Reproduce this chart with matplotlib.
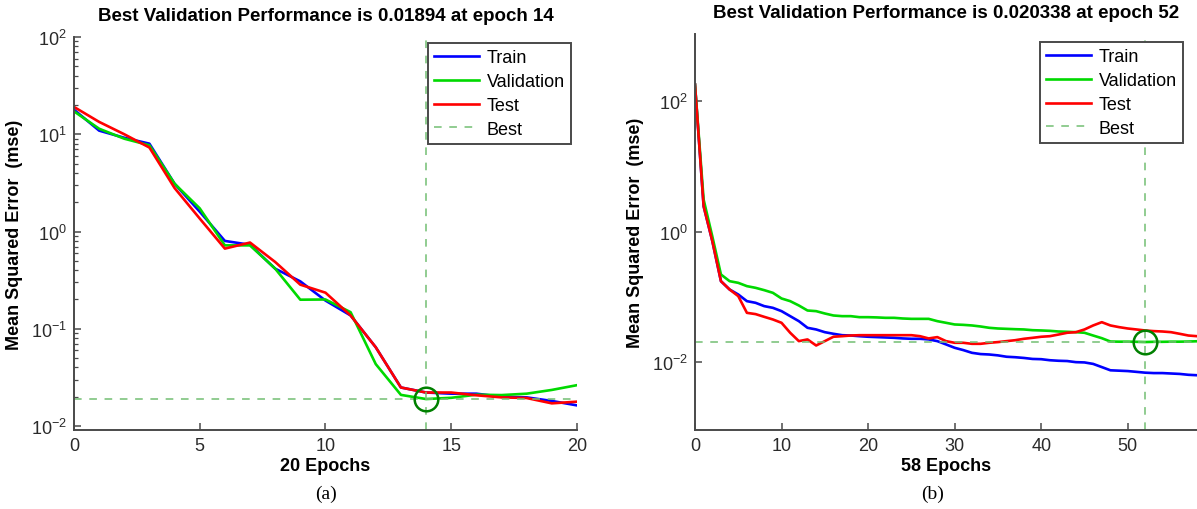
import numpy as np
import matplotlib
matplotlib.use("Agg")
import matplotlib.pyplot as plt
from matplotlib.ticker import LogLocator, NullLocator, FixedLocator

plt.rcParams["font.family"] = ["Liberation Sans", "DejaVu Sans"]
plt.rcParams["mathtext.fontset"] = "custom"
plt.rcParams["mathtext.rm"] = "Liberation Sans"
plt.rcParams["mathtext.it"] = "Liberation Sans:italic"
plt.rcParams["mathtext.bf"] = "Liberation Sans:bold"

# ---- Panel (a): 20 epochs ----
epochs_a = list(range(21))
train_a = [17.9, 10.9, 9.2, 8.0, 3.1, 1.6, 0.80, 0.73, 0.415, 0.307, 0.195,
           0.137, 0.0645, 0.0249, 0.0221, 0.0215, 0.0215, 0.0200, 0.0197, 0.0181, 0.0163]
val_a = [17.2, 11.4, 9.0, 7.7, 3.1, 1.73, 0.72, 0.72, 0.415, 0.199, 0.200,
         0.148, 0.0433, 0.0209, 0.01894, 0.0195, 0.0210, 0.0208, 0.0215, 0.0235, 0.0263]
test_a = [19.1, 13.4, 10.0, 7.3, 2.8, 1.36, 0.667, 0.77, 0.486, 0.284, 0.235,
          0.137, 0.0645, 0.0249, 0.0221, 0.0221, 0.0207, 0.0197, 0.0194, 0.0171, 0.0178]
best_epoch_a = 14
best_perf_a = 0.01894

# ---- Panel (b): 58 epochs ----
epochs_b = list(range(59))
train_b = [180, 2.45, 0.72, 0.1743, 0.1299, 0.1089, 0.0861, 0.0812, 0.0722, 0.0680,
           0.0605, 0.0507, 0.0425, 0.0336, 0.0317, 0.0288, 0.0272, 0.0259, 0.0256, 0.0250,
           0.0245, 0.0242, 0.0239, 0.0236, 0.0231, 0.0228, 0.0228, 0.0223, 0.0210, 0.0187,
           0.0166, 0.0153, 0.0139, 0.0133, 0.0131, 0.0127, 0.0121, 0.0119, 0.0116, 0.0112,
           0.0111, 0.0107, 0.0105, 0.0104, 0.0100, 0.0099, 0.0094, 0.0084, 0.0075, 0.0074,
           0.0073, 0.0071, 0.0069, 0.0068, 0.0068, 0.0067, 0.0066, 0.0064, 0.0063]
val_b = [180, 3.1, 0.85, 0.2207, 0.1743, 0.1643, 0.1462, 0.1378, 0.1269, 0.1155,
         0.0946, 0.0861, 0.0739, 0.0619, 0.0605, 0.0557, 0.0519, 0.0507, 0.0507, 0.0489,
         0.0489, 0.0485, 0.0478, 0.0478, 0.0467, 0.0461, 0.0461, 0.0461, 0.0425, 0.0401,
         0.0378, 0.0373, 0.0365, 0.0352, 0.0336, 0.0328, 0.0324, 0.0320, 0.0317, 0.0309,
         0.0306, 0.0302, 0.0295, 0.0292, 0.0288, 0.0282, 0.0256, 0.0233, 0.0207, 0.0206,
         0.0206, 0.0205, 0.020338, 0.0205, 0.0205, 0.0206, 0.0206, 0.0207, 0.0209]
test_b = [180, 2.45, 0.72, 0.1743, 0.1299, 0.1027, 0.0570, 0.0545, 0.0495, 0.0451,
          0.0401, 0.0282, 0.0210, 0.0223, 0.0180, 0.0210, 0.0245, 0.0250, 0.0256, 0.0259,
          0.0259, 0.0259, 0.0259, 0.0259, 0.0259, 0.0259, 0.0250, 0.0231, 0.0242, 0.0210,
          0.0198, 0.0198, 0.0191, 0.0191, 0.0198, 0.0203, 0.0210, 0.0217, 0.0228, 0.0236,
          0.0245, 0.0250, 0.0265, 0.0282, 0.0288, 0.0317, 0.0365, 0.0410, 0.0365, 0.0344,
          0.0328, 0.0317, 0.0306, 0.0299, 0.0295, 0.0288, 0.0272, 0.0256, 0.0250]
best_epoch_b = 52
best_perf_b = 0.020338

C_TRAIN = (0.0, 0.0, 1.0)
C_VAL = (0.0, 0.85, 0.0)
C_TEST = (1.0, 0.0, 0.0)
C_BEST = (0.45, 0.75, 0.45)
C_CIRCLE = (0.0, 0.5, 0.0)
C_AXIS = "#4a4a4a"
C_TICKTXT = "#2a2a2a"

fig = plt.figure(figsize=(11.97, 5.10), dpi=100)
ax_a = fig.add_axes([0.0618, 0.1549, 0.4202, 0.7706])
ax_b = fig.add_axes([0.5806, 0.1549, 0.4194, 0.7765])


def draw_panel(ax, ep, tr, va, te, best_ep, best_perf, xlim, ylim, xticks, yticks,
               minor, title, xlabel, legend_anchor):
    ax.plot(ep, tr, color=C_TRAIN, lw=1.9, label="Train")
    ax.plot(ep, va, color=C_VAL, lw=1.9, label="Validation")
    ax.plot(ep, te, color=C_TEST, lw=1.9, label="Test")
    ax.set_yscale("log")
    ax.set_xlim(*xlim)
    ax.set_ylim(*ylim)
    ax.axhline(best_perf, color=C_BEST, lw=1.1, ls=(0, (5, 5)), label="Best")
    ax.axvline(best_ep, color=C_BEST, lw=1.1, ls=(0, (5, 5)))
    ax.plot([best_ep], [best_perf], "o", ms=17, mfc="none", mec=C_CIRCLE, mew=1.8,
            clip_on=False)

    ax.xaxis.set_major_locator(FixedLocator(xticks))
    ax.yaxis.set_major_locator(FixedLocator(yticks))
    if minor:
        ax.yaxis.set_minor_locator(LogLocator(base=10, subs=np.arange(2, 10)))
    else:
        ax.yaxis.set_minor_locator(NullLocator())
    ax.xaxis.set_minor_locator(NullLocator())

    for s in ("top", "right"):
        ax.spines[s].set_visible(False)
    for s in ("left", "bottom"):
        ax.spines[s].set_color(C_AXIS)
        ax.spines[s].set_linewidth(1.4)
    ax.tick_params(which="major", direction="in", length=5, width=1.1, color=C_AXIS,
                   labelsize=13, labelcolor=C_TICKTXT, pad=5)
    ax.tick_params(which="minor", direction="in", length=3, width=0.9, color=C_AXIS)

    ax.set_title(title, fontsize=13.5, fontweight="bold", pad=12)
    ax.set_xlabel(xlabel, fontsize=13, fontweight="bold", labelpad=2)
    ax.set_ylabel("Mean Squared Error  (mse)", fontsize=13, fontweight="bold", labelpad=6)

    leg = ax.legend(loc="upper right", bbox_to_anchor=legend_anchor, fontsize=13,
                    frameon=True, fancybox=False, framealpha=1, edgecolor=C_AXIS,
                    handlelength=2.5, handletextpad=0.4, labelspacing=0.38,
                    borderpad=0.35, borderaxespad=0)
    leg.get_frame().set_linewidth(1.4)


draw_panel(ax_a, epochs_a, train_a, val_a, test_a, best_epoch_a, best_perf_a,
           xlim=(0, 20), ylim=(10 ** -2.041, 100), xticks=[0, 5, 10, 15, 20],
           yticks=[1e-2, 1e-1, 1e0, 1e1, 1e2], minor=True,
           title="Best Validation Performance is 0.01894 at epoch 14",
           xlabel="20 Epochs", legend_anchor=(0.988, 0.985))

draw_panel(ax_b, epochs_b, train_b, val_b, test_b, best_epoch_b, best_perf_b,
           xlim=(0, 58), ylim=(10 ** -3.04, 10 ** 3.03), xticks=[0, 10, 20, 30, 40, 50],
           yticks=[1e-2, 1e0, 1e2], minor=False,
           title="Best Validation Performance is 0.020338 at epoch 52",
           xlabel="58 Epochs", legend_anchor=(0.972, 0.980))

fig.text(0.2723, 0.031, "(a)", ha="center", va="center", fontsize=14,
         family="Liberation Serif")
fig.text(0.7795, 0.031, "(b)", ha="center", va="center", fontsize=14,
         family="Liberation Serif")

fig.savefig("out.png", dpi=100)
